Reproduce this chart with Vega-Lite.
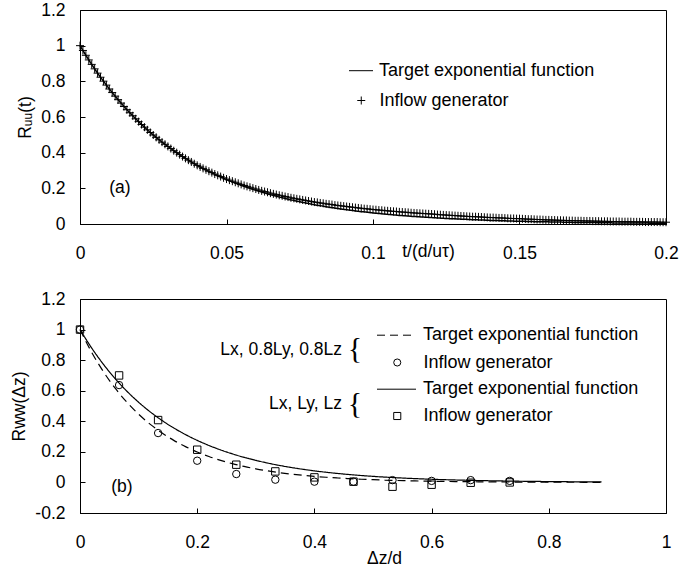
{
 "$schema": "https://vega.github.io/schema/vega-lite/v6.json",
 "padding": {"left": 10, "top": 0, "right": 0, "bottom": 0},
 "bounds": "flush",
 "spacing": 75,
 "resolve": {"scale": {"shape": "independent", "strokeDash": "independent"}, "legend": {"shape": "independent", "strokeDash": "independent"}},
 "config": {
  "font": "Liberation Sans",
  "view": {"stroke": "black", "strokeWidth": 1},
  "axis": {"grid": false, "domainColor": "black", "domainWidth": 1, "tickColor": "black", "tickSize": -5, "tickWidth": 1, "labelColor": "black", "labelFont": "Liberation Sans", "labelFontSize": 17.5, "labelPadding": 20, "labelFlush": false, "labelOverlap": false, "labelSeparation": 0, "titleColor": "black", "titleFont": "Liberation Sans", "titleFontSize": 17.5, "titleFontWeight": "normal"},
  "legend": {"labelFont": "Liberation Sans", "labelFontSize": 18, "labelColor": "black", "padding": 0, "labelLimit": 400, "symbolStrokeColor": "black", "symbolStrokeWidth": 1}
 },
 "datasets": {
  "top": [
{"t":0,"f":1,"g":1},{"t":0.001,"f":0.973,"g":0.973},{"t":0.002,"f":0.946,"g":0.946},{"t":0.003,"f":0.92,"g":0.92},{"t":0.004,"f":0.895,"g":0.895},{"t":0.005,"f":0.87,"g":0.87},{"t":0.006,"f":0.846,"g":0.846},{"t":0.007,"f":0.823,"g":0.823},{"t":0.008,"f":0.801,"g":0.801},{"t":0.009,"f":0.779,"g":0.779},
{"t":0.01,"f":0.757,"g":0.757},{"t":0.011,"f":0.737,"g":0.737},{"t":0.012,"f":0.717,"g":0.717},{"t":0.013,"f":0.697,"g":0.697},{"t":0.014,"f":0.678,"g":0.678},{"t":0.015,"f":0.659,"g":0.659},{"t":0.016,"f":0.641,"g":0.641},{"t":0.017,"f":0.624,"g":0.624},{"t":0.018,"f":0.607,"g":0.607},{"t":0.019,"f":0.59,"g":0.59},
{"t":0.02,"f":0.574,"g":0.574},{"t":0.021,"f":0.558,"g":0.558},{"t":0.022,"f":0.543,"g":0.543},{"t":0.023,"f":0.528,"g":0.528},{"t":0.024,"f":0.513,"g":0.513},{"t":0.025,"f":0.499,"g":0.499},{"t":0.026,"f":0.486,"g":0.486},{"t":0.027,"f":0.472,"g":0.472},{"t":0.028,"f":0.459,"g":0.459},{"t":0.029,"f":0.447,"g":0.447},
{"t":0.03,"f":0.435,"g":0.435},{"t":0.031,"f":0.423,"g":0.423},{"t":0.032,"f":0.411,"g":0.411},{"t":0.033,"f":0.4,"g":0.4},{"t":0.034,"f":0.389,"g":0.389},{"t":0.035,"f":0.378,"g":0.378},{"t":0.036,"f":0.368,"g":0.368},{"t":0.037,"f":0.358,"g":0.358},{"t":0.038,"f":0.348,"g":0.348},{"t":0.039,"f":0.338,"g":0.338},
{"t":0.04,"f":0.329,"g":0.329},{"t":0.041,"f":0.32,"g":0.32},{"t":0.042,"f":0.311,"g":0.312},{"t":0.043,"f":0.303,"g":0.304},{"t":0.044,"f":0.295,"g":0.296},{"t":0.045,"f":0.287,"g":0.288},{"t":0.046,"f":0.279,"g":0.28},{"t":0.047,"f":0.271,"g":0.273},{"t":0.048,"f":0.264,"g":0.266},{"t":0.049,"f":0.256,"g":0.259},
{"t":0.05,"f":0.249,"g":0.252},{"t":0.051,"f":0.243,"g":0.246},{"t":0.052,"f":0.236,"g":0.24},{"t":0.053,"f":0.229,"g":0.234},{"t":0.054,"f":0.223,"g":0.228},{"t":0.055,"f":0.217,"g":0.222},{"t":0.056,"f":0.211,"g":0.216},{"t":0.057,"f":0.205,"g":0.211},{"t":0.058,"f":0.2,"g":0.206},{"t":0.059,"f":0.194,"g":0.201},
{"t":0.06,"f":0.189,"g":0.196},{"t":0.061,"f":0.184,"g":0.191},{"t":0.062,"f":0.179,"g":0.186},{"t":0.063,"f":0.174,"g":0.182},{"t":0.064,"f":0.169,"g":0.178},{"t":0.065,"f":0.164,"g":0.173},{"t":0.066,"f":0.16,"g":0.169},{"t":0.067,"f":0.156,"g":0.165},{"t":0.068,"f":0.151,"g":0.161},{"t":0.069,"f":0.147,"g":0.158},
{"t":0.07,"f":0.143,"g":0.154},{"t":0.071,"f":0.139,"g":0.151},{"t":0.072,"f":0.135,"g":0.147},{"t":0.073,"f":0.132,"g":0.144},{"t":0.074,"f":0.128,"g":0.141},{"t":0.075,"f":0.125,"g":0.138},{"t":0.076,"f":0.121,"g":0.135},{"t":0.077,"f":0.118,"g":0.132},{"t":0.078,"f":0.115,"g":0.129},{"t":0.079,"f":0.111,"g":0.126},
{"t":0.08,"f":0.108,"g":0.123},{"t":0.081,"f":0.105,"g":0.121},{"t":0.082,"f":0.103,"g":0.118},{"t":0.083,"f":0.1,"g":0.116},{"t":0.084,"f":0.097,"g":0.113},{"t":0.085,"f":0.094,"g":0.111},{"t":0.086,"f":0.092,"g":0.109},{"t":0.087,"f":0.089,"g":0.106},{"t":0.088,"f":0.087,"g":0.104},{"t":0.089,"f":0.084,"g":0.102},
{"t":0.09,"f":0.082,"g":0.1},{"t":0.091,"f":0.08,"g":0.098},{"t":0.092,"f":0.078,"g":0.096},{"t":0.093,"f":0.076,"g":0.094},{"t":0.094,"f":0.073,"g":0.092},{"t":0.095,"f":0.071,"g":0.09},{"t":0.096,"f":0.069,"g":0.088},{"t":0.097,"f":0.068,"g":0.086},{"t":0.098,"f":0.066,"g":0.085},{"t":0.099,"f":0.064,"g":0.083},
{"t":0.1,"f":0.062,"g":0.081},{"t":0.101,"f":0.06,"g":0.08},{"t":0.102,"f":0.059,"g":0.078},{"t":0.103,"f":0.057,"g":0.077},{"t":0.104,"f":0.056,"g":0.075},{"t":0.105,"f":0.054,"g":0.074},{"t":0.106,"f":0.053,"g":0.072},{"t":0.107,"f":0.051,"g":0.071},{"t":0.108,"f":0.05,"g":0.07},{"t":0.109,"f":0.048,"g":0.068},
{"t":0.11,"f":0.047,"g":0.067},{"t":0.111,"f":0.046,"g":0.066},{"t":0.112,"f":0.045,"g":0.065},{"t":0.113,"f":0.043,"g":0.063},{"t":0.114,"f":0.042,"g":0.062},{"t":0.115,"f":0.041,"g":0.061},{"t":0.116,"f":0.04,"g":0.06},{"t":0.117,"f":0.039,"g":0.059},{"t":0.118,"f":0.038,"g":0.058},{"t":0.119,"f":0.037,"g":0.057},
{"t":0.12,"f":0.036,"g":0.056},{"t":0.121,"f":0.035,"g":0.055},{"t":0.122,"f":0.034,"g":0.053},{"t":0.123,"f":0.033,"g":0.052},{"t":0.124,"f":0.032,"g":0.051},{"t":0.125,"f":0.031,"g":0.05},{"t":0.126,"f":0.03,"g":0.049},{"t":0.127,"f":0.029,"g":0.048},{"t":0.128,"f":0.029,"g":0.047},{"t":0.129,"f":0.028,"g":0.046},
{"t":0.13,"f":0.027,"g":0.045},{"t":0.131,"f":0.026,"g":0.044},{"t":0.132,"f":0.026,"g":0.043},{"t":0.133,"f":0.025,"g":0.042},{"t":0.134,"f":0.024,"g":0.041},{"t":0.135,"f":0.024,"g":0.041},{"t":0.136,"f":0.023,"g":0.04},{"t":0.137,"f":0.022,"g":0.039},{"t":0.138,"f":0.022,"g":0.038},{"t":0.139,"f":0.021,"g":0.037},
{"t":0.14,"f":0.02,"g":0.036},{"t":0.141,"f":0.02,"g":0.036},{"t":0.142,"f":0.019,"g":0.035},{"t":0.143,"f":0.019,"g":0.034},{"t":0.144,"f":0.018,"g":0.034},{"t":0.145,"f":0.018,"g":0.033},{"t":0.146,"f":0.017,"g":0.032},{"t":0.147,"f":0.017,"g":0.031},{"t":0.148,"f":0.016,"g":0.031},{"t":0.149,"f":0.016,"g":0.03},
{"t":0.15,"f":0.016,"g":0.03},{"t":0.151,"f":0.015,"g":0.029},{"t":0.152,"f":0.015,"g":0.028},{"t":0.153,"f":0.014,"g":0.027},{"t":0.154,"f":0.014,"g":0.027},{"t":0.155,"f":0.013,"g":0.026},{"t":0.156,"f":0.013,"g":0.025},{"t":0.157,"f":0.013,"g":0.025},{"t":0.158,"f":0.012,"g":0.024},{"t":0.159,"f":0.012,"g":0.023},
{"t":0.16,"f":0.012,"g":0.023},{"t":0.161,"f":0.011,"g":0.022},{"t":0.162,"f":0.011,"g":0.022},{"t":0.163,"f":0.011,"g":0.021},{"t":0.164,"f":0.011,"g":0.021},{"t":0.165,"f":0.01,"g":0.02},{"t":0.166,"f":0.01,"g":0.02},{"t":0.167,"f":0.01,"g":0.019},{"t":0.168,"f":0.009,"g":0.019},{"t":0.169,"f":0.009,"g":0.018},
{"t":0.17,"f":0.009,"g":0.018},{"t":0.171,"f":0.009,"g":0.018},{"t":0.172,"f":0.008,"g":0.017},{"t":0.173,"f":0.008,"g":0.017},{"t":0.174,"f":0.008,"g":0.017},{"t":0.175,"f":0.008,"g":0.016},{"t":0.176,"f":0.008,"g":0.016},{"t":0.177,"f":0.007,"g":0.016},{"t":0.178,"f":0.007,"g":0.015},{"t":0.179,"f":0.007,"g":0.015},
{"t":0.18,"f":0.007,"g":0.015},{"t":0.181,"f":0.007,"g":0.014},{"t":0.182,"f":0.006,"g":0.014},{"t":0.183,"f":0.006,"g":0.014},{"t":0.184,"f":0.006,"g":0.014},{"t":0.185,"f":0.006,"g":0.013},{"t":0.186,"f":0.006,"g":0.013},{"t":0.187,"f":0.006,"g":0.013},{"t":0.188,"f":0.005,"g":0.013},{"t":0.189,"f":0.005,"g":0.012},
{"t":0.19,"f":0.005,"g":0.012},{"t":0.191,"f":0.005,"g":0.012},{"t":0.192,"f":0.005,"g":0.012},{"t":0.193,"f":0.005,"g":0.011},{"t":0.194,"f":0.005,"g":0.011},{"t":0.195,"f":0.004,"g":0.011},{"t":0.196,"f":0.004,"g":0.011},{"t":0.197,"f":0.004,"g":0.011},{"t":0.198,"f":0.004,"g":0.01},{"t":0.199,"f":0.004,"g":0.01},
{"t":0.2,"f":0.004,"g":0.01}
  ],
  "curves": [
{"z":0,"v":1,"c":"A"},{"z":0.02,"v":0.851,"c":"A"},{"z":0.04,"v":0.7243,"c":"A"},{"z":0.06,"v":0.6164,"c":"A"},{"z":0.08,"v":0.5246,"c":"A"},{"z":0.1,"v":0.4464,"c":"A"},{"z":0.12,"v":0.3799,"c":"A"},{"z":0.14,"v":0.3234,"c":"A"},{"z":0.16,"v":0.2752,"c":"A"},{"z":0.18,"v":0.2342,"c":"A"},{"z":0.2,"v":0.1993,"c":"A"},{"z":0.22,"v":0.1696,"c":"A"},{"z":0.24,"v":0.1444,"c":"A"},{"z":0.26,"v":0.1229,"c":"A"},{"z":0.28,"v":0.1046,"c":"A"},{"z":0.3,"v":0.089,"c":"A"},{"z":0.32,"v":0.0757,"c":"A"},{"z":0.34,"v":0.0644,"c":"A"},{"z":0.36,"v":0.0548,"c":"A"},{"z":0.38,"v":0.0467,"c":"A"},{"z":0.4,"v":0.0397,"c":"A"},{"z":0.42,"v":0.0338,"c":"A"},{"z":0.44,"v":0.0288,"c":"A"},{"z":0.46,"v":0.0245,"c":"A"},{"z":0.48,"v":0.0208,"c":"A"},{"z":0.5,"v":0.0177,"c":"A"},{"z":0.52,"v":0.0151,"c":"A"},{"z":0.54,"v":0.0128,"c":"A"},{"z":0.56,"v":0.0109,"c":"A"},{"z":0.58,"v":0.0093,"c":"A"},{"z":0.6,"v":0.0079,"c":"A"},{"z":0.62,"v":0.0067,"c":"A"},{"z":0.64,"v":0.0057,"c":"A"},{"z":0.66,"v":0.0049,"c":"A"},{"z":0.68,"v":0.0042,"c":"A"},{"z":0.7,"v":0.0035,"c":"A"},{"z":0.72,"v":0.003,"c":"A"},{"z":0.74,"v":0.0026,"c":"A"},{"z":0.76,"v":0.0022,"c":"A"},{"z":0.78,"v":0.0019,"c":"A"},{"z":0.8,"v":0.0016,"c":"A"},{"z":0.82,"v":0.0014,"c":"A"},{"z":0.84,"v":0.0011,"c":"A"},{"z":0.86,"v":0.001,"c":"A"},{"z":0.88,"v":0.0008,"c":"A"},{"z":0.89,"v":0.0008,"c":"A"},
{"z":0,"v":1,"c":"B"},{"z":0.02,"v":0.8789,"c":"B"},{"z":0.04,"v":0.7725,"c":"B"},{"z":0.06,"v":0.679,"c":"B"},{"z":0.08,"v":0.5968,"c":"B"},{"z":0.1,"v":0.5246,"c":"B"},{"z":0.12,"v":0.4611,"c":"B"},{"z":0.14,"v":0.4053,"c":"B"},{"z":0.16,"v":0.3562,"c":"B"},{"z":0.18,"v":0.3131,"c":"B"},{"z":0.2,"v":0.2752,"c":"B"},{"z":0.22,"v":0.2419,"c":"B"},{"z":0.24,"v":0.2126,"c":"B"},{"z":0.26,"v":0.1869,"c":"B"},{"z":0.28,"v":0.1642,"c":"B"},{"z":0.3,"v":0.1444,"c":"B"},{"z":0.32,"v":0.1269,"c":"B"},{"z":0.34,"v":0.1115,"c":"B"},{"z":0.36,"v":0.098,"c":"B"},{"z":0.38,"v":0.0862,"c":"B"},{"z":0.4,"v":0.0757,"c":"B"},{"z":0.42,"v":0.0666,"c":"B"},{"z":0.44,"v":0.0585,"c":"B"},{"z":0.46,"v":0.0514,"c":"B"},{"z":0.48,"v":0.0452,"c":"B"},{"z":0.5,"v":0.0397,"c":"B"},{"z":0.52,"v":0.0349,"c":"B"},{"z":0.54,"v":0.0307,"c":"B"},{"z":0.56,"v":0.027,"c":"B"},{"z":0.58,"v":0.0237,"c":"B"},{"z":0.6,"v":0.0208,"c":"B"},{"z":0.62,"v":0.0183,"c":"B"},{"z":0.64,"v":0.0161,"c":"B"},{"z":0.66,"v":0.0142,"c":"B"},{"z":0.68,"v":0.0124,"c":"B"},{"z":0.7,"v":0.0109,"c":"B"},{"z":0.72,"v":0.0096,"c":"B"},{"z":0.74,"v":0.0084,"c":"B"},{"z":0.76,"v":0.0074,"c":"B"},{"z":0.78,"v":0.0065,"c":"B"},{"z":0.8,"v":0.0057,"c":"B"},{"z":0.82,"v":0.005,"c":"B"},{"z":0.84,"v":0.0044,"c":"B"},{"z":0.86,"v":0.0039,"c":"B"},{"z":0.88,"v":0.0034,"c":"B"},{"z":0.89,"v":0.0032,"c":"B"}
  ],
  "pts": [
{"z":0,"v":1,"c":"A"},{"z":0.0667,"v":0.637,"c":"A"},{"z":0.1333,"v":0.323,"c":"A"},{"z":0.2,"v":0.142,"c":"A"},{"z":0.2667,"v":0.055,"c":"A"},{"z":0.3333,"v":0.018,"c":"A"},{"z":0.4,"v":0.005,"c":"A"},{"z":0.4667,"v":0.005,"c":"A"},{"z":0.5333,"v":0.015,"c":"A"},{"z":0.6,"v":0.01,"c":"A"},{"z":0.6667,"v":0.015,"c":"A"},{"z":0.7333,"v":0.01,"c":"A"},
{"z":0,"v":1,"c":"B"},{"z":0.0667,"v":0.7,"c":"B"},{"z":0.1333,"v":0.408,"c":"B"},{"z":0.2,"v":0.214,"c":"B"},{"z":0.2667,"v":0.116,"c":"B"},{"z":0.3333,"v":0.072,"c":"B"},{"z":0.4,"v":0.033,"c":"B"},{"z":0.4667,"v":0.005,"c":"B"},{"z":0.5333,"v":-0.028,"c":"B"},{"z":0.6,"v":-0.015,"c":"B"},{"z":0.6667,"v":-0.002,"c":"B"},{"z":0.7333,"v":0,"c":"B"}
  ]
 },
 "vconcat": [
  {
   "width": 586, "height": 214,
   "layer": [
    {
     "data": {"name": "top"},
     "mark": {"type": "line", "color": "black", "strokeWidth": 1.5},
     "encoding": {
      "x": {"field": "t", "type": "quantitative", "scale": {"domain": [0, 0.2], "nice": false},
            "axis": {"values": [0, 0.05, 0.1, 0.15, 0.2], "labelExpr": "toString(datum.value)", "labelOverlap": false, "labelPadding": 25, "title": "t/(d/uτ)", "titleX": 348, "titleY": 27, "titleBaseline": "middle", "titleAlign": "center"}},
      "y": {"field": "f", "type": "quantitative", "scale": {"domain": [0, 1.2], "nice": false},
            "axis": {"tickCount": 7, "labelExpr": "toString(datum.value)", "labelOverlap": false, "labelSeparation": 0, "title": "Rᵤᵤ(t)", "titlePadding": 6}},
      "strokeDash": {"datum": "Target exponential function", "type": "nominal", "scale": {"domain": ["Target exponential function"], "range": [[1, 0]]},
        "legend": {"title": null, "orient": "none", "legendX": 268.5, "legendY": 48.2, "symbolSize": 576, "symbolType": "stroke", "labelOffset": 5.5}}
     }
    },
    {
     "data": {"name": "top"},
     "mark": {"type": "point", "filled": false, "stroke": "black", "strokeWidth": 1, "size": 64, "opacity": 1},
     "encoding": {
      "x": {"field": "t", "type": "quantitative"},
      "y": {"field": "g", "type": "quantitative"},
      "shape": {"datum": "Inflow generator", "type": "nominal",
        "scale": {"domain": ["Inflow generator"], "range": ["M-1,0H1M0,-1V1"]},
        "legend": {"title": null, "orient": "none", "legendX": 272.25, "legendY": 81.5, "symbolSize": 64, "labelOffset": 9.25}}
     }
    },
    {
     "data": {"values": [{}]},
     "mark": {"type": "text", "fontSize": 17.5, "font": "Liberation Sans", "align": "center", "baseline": "middle", "color": "black", "text": "(a)"},
     "encoding": {"x": {"datum": 0.0136, "type": "quantitative"}, "y": {"datum": 0.2, "type": "quantitative"}}
    }
   ]
  },
  {
   "width": 586, "height": 214,
   "resolve": {"scale": {"shape": "independent", "strokeDash": "independent"}, "legend": {"shape": "independent", "strokeDash": "independent"}},
   "layer": [
    {
     "data": {"name": "curves"},
     "transform": [{"filter": "datum.c == 'A'"}],
     "mark": {"type": "line", "color": "black", "strokeWidth": 1.2, "interpolate": "monotone"},
     "encoding": {
      "x": {"field": "z", "type": "quantitative", "scale": {"domain": [0, 1], "nice": false},
            "axis": {"values": [0, 0.2, 0.4, 0.6, 0.8, 1], "labelExpr": "toString(datum.value)", "labelOverlap": false, "labelPadding": 25, "title": "Δz/d", "titleX": 304, "titleY": 45, "titleBaseline": "middle", "titleAlign": "center"}},
      "y": {"field": "v", "type": "quantitative", "scale": {"domain": [-0.2, 1.2], "nice": false},
            "axis": {"tickCount": 8, "labelExpr": "toString(datum.value)", "labelOverlap": false, "labelSeparation": 0, "title": "Rww(Δz)", "titlePadding": 6}},
      "strokeDash": {"datum": "Target exponential function", "type": "nominal", "scale": {"domain": ["Target exponential function"], "range": [[8, 5]]},
        "legend": {"title": null, "orient": "none", "legendX": 296.5, "legendY": 16.2, "symbolSize": 1521, "symbolType": "stroke", "labelOffset": 6.5}}
     }
    },
    {
     "data": {"name": "curves"},
     "transform": [{"filter": "datum.c == 'B'"}],
     "mark": {"type": "line", "color": "black", "strokeWidth": 1.2, "interpolate": "monotone"},
     "encoding": {
      "x": {"field": "z", "type": "quantitative"},
      "y": {"field": "v", "type": "quantitative"},
      "strokeDash": {"datum": "Target exponential function", "type": "nominal", "scale": {"domain": ["Target exponential function"], "range": [[1, 0]]},
        "legend": {"title": null, "orient": "none", "legendX": 296.5, "legendY": 70.2, "symbolSize": 1521, "symbolType": "stroke", "labelOffset": 6.5}}
     }
    },
    {
     "data": {"name": "pts"},
     "transform": [{"filter": "datum.c == 'A'"}],
     "mark": {"type": "point", "filled": false, "stroke": "black", "strokeWidth": 1, "size": 55, "opacity": 1},
     "encoding": {
      "x": {"field": "z", "type": "quantitative"},
      "y": {"field": "v", "type": "quantitative"},
      "shape": {"datum": "Inflow generator", "type": "nominal", "scale": {"domain": ["Inflow generator"], "range": ["circle"]},
        "legend": {"title": null, "orient": "none", "legendX": 308.25, "legendY": 54.5, "symbolSize": 50, "labelOffset": 17.25}}
     }
    },
    {
     "data": {"name": "pts"},
     "transform": [{"filter": "datum.c == 'B'"}],
     "mark": {"type": "point", "filled": false, "stroke": "black", "strokeWidth": 1, "size": 55, "opacity": 1},
     "encoding": {
      "x": {"field": "z", "type": "quantitative"},
      "y": {"field": "v", "type": "quantitative"},
      "shape": {"datum": "Inflow generator", "type": "nominal", "scale": {"domain": ["Inflow generator"], "range": ["square"]},
        "legend": {"title": null, "orient": "none", "legendX": 308.25, "legendY": 108, "symbolSize": 50, "labelOffset": 17.25}}
     }
    },
    {
     "data": {"values": [{}]},
     "mark": {"type": "text", "fontSize": 17.5, "font": "Liberation Sans", "align": "center", "baseline": "middle", "color": "black", "text": "(b)"},
     "encoding": {"x": {"datum": 0.0716, "type": "quantitative"}, "y": {"datum": -0.03, "type": "quantitative"}}
    },
    {
     "data": {"values": [{}]},
     "mark": {"type": "text", "fontSize": 17.5, "font": "Liberation Sans", "align": "right", "baseline": "middle", "color": "black", "text": "Lx, 0.8Ly, 0.8Lz"},
     "encoding": {"x": {"datum": 0.447, "type": "quantitative"}, "y": {"datum": 0.865, "type": "quantitative"}}
    },
    {
     "data": {"values": [{}]},
     "mark": {"type": "text", "fontSize": 17.5, "font": "Liberation Sans", "align": "right", "baseline": "middle", "color": "black", "text": "Lx, Ly, Lz"},
     "encoding": {"x": {"datum": 0.447, "type": "quantitative"}, "y": {"datum": 0.515, "type": "quantitative"}}
    },
    {
     "data": {"values": [{}]},
     "mark": {"type": "text", "fontSize": 30, "font": "Liberation Serif", "align": "center", "baseline": "middle", "color": "black", "text": "{"},
     "encoding": {"x": {"datum": 0.469, "type": "quantitative"}, "y": {"datum": 0.873, "type": "quantitative"}}
    },
    {
     "data": {"values": [{}]},
     "mark": {"type": "text", "fontSize": 30, "font": "Liberation Serif", "align": "center", "baseline": "middle", "color": "black", "text": "{"},
     "encoding": {"x": {"datum": 0.469, "type": "quantitative"}, "y": {"datum": 0.515, "type": "quantitative"}}
    }
   ]
  }
 ]
}
